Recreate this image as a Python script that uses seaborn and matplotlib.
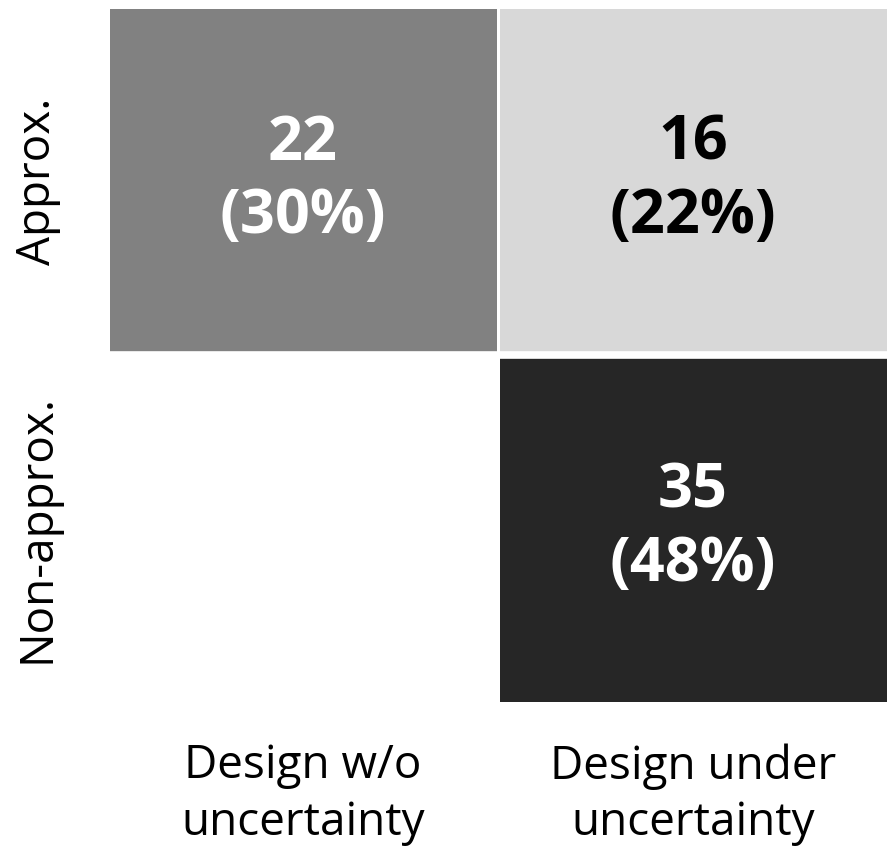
import numpy as np
import pandas as pd
import seaborn as sns
import matplotlib.pyplot as plt
from matplotlib.colors import LinearSegmentedColormap, to_rgb

# Data
row_labels = ["Approx.", "Non-approx."]
col_labels = ["Design w/o\nuncertainty", "Design under\nuncertainty"]
counts = [[22, 16],
          [0, 35]]

df = pd.DataFrame(counts, index=row_labels, columns=col_labels)
total = df.values.sum()

# annotation text, empty cell gets no label
annot = df.map(lambda v: "" if v == 0 else f"{v}\n({round(100 * v / total)}%)")

# grey shades as in the original picture
vmax = df.values.max()
cmap = LinearSegmentedColormap.from_list(
    "greys_custom",
    [(0.0, "#ffffff"), (16 / vmax, "#d9d9d9"), (22 / vmax, "#808080"), (1.0, "#262626")],
)

sns.set_theme(style="white")
plt.rcParams["font.family"] = ["Open Sans", "DejaVu Sans"]

fig = plt.figure(figsize=(8.88, 8.51), dpi=100)
ax = fig.add_axes([0.1216, 0.174, 0.8784, 0.8178])

sns.heatmap(
    df,
    annot=annot,
    fmt="",
    cmap=cmap,
    vmin=0,
    vmax=vmax,
    cbar=False,
    linewidths=1.0,
    linecolor="white",
    annot_kws={"fontsize": 44, "fontweight": "bold", "linespacing": 1.27},
    ax=ax,
)
ax.axhline(1, color="white", lw=5.5)

# dark text on light cells should be pure black
for t in ax.texts:
    if to_rgb(t.get_color()) != (1.0, 1.0, 1.0):
        t.set_color("black")

ax.tick_params(axis="both", length=0, labelsize=33, labelcolor="black")
ax.tick_params(axis="y", pad=34)
ax.tick_params(axis="x", pad=29)
plt.setp(ax.get_yticklabels(), rotation=90, va="center")
plt.setp(ax.get_xticklabels(), rotation=0, ha="center", linespacing=1.3)
ax.set_xlabel("")
ax.set_ylabel("")

fig.savefig("out.png", dpi=100)
